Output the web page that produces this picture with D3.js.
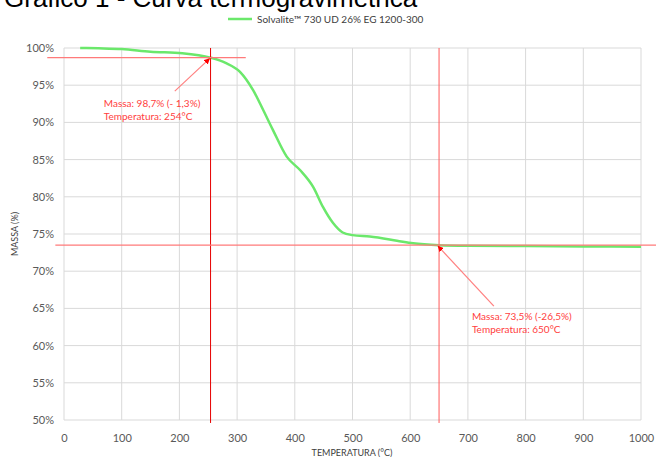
<!DOCTYPE html>
<html>
<head>
<meta charset="utf-8">
<script src="https://cdn.jsdelivr.net/npm/d3@7"></script>
<style>
  html, body { margin: 0; padding: 0; background: #fff; overflow: hidden; }
  svg { display: block; }
</style>
</head>
<body>
<svg id="chart" width="656" height="457"></svg>
<script>
// Thermogravimetric curve: temperature (°C) vs remaining mass (%)
const temperature = [28, 60, 100, 150, 205, 254, 280, 305, 328, 345, 362, 386, 409, 432, 449, 466, 483, 500, 530, 577, 605, 650, 700, 800, 900, 1000];
const mass =        [100, 99.95, 99.85, 99.5, 99.3, 98.7, 98.0, 96.8, 94.3, 91.7, 89.0, 85.4, 83.6, 81.3, 78.6, 76.5, 75.2, 74.85, 74.65, 74.1, 73.75, 73.5, 73.42, 73.38, 73.33, 73.28];

const xTicks = [0, 100, 200, 300, 400, 500, 600, 700, 800, 900, 1000];
const yTicks = [50, 55, 60, 65, 70, 75, 80, 85, 90, 95, 100];

const seriesName = "Solvalite™ 730 UD 26% EG 1200-300";
const titleText = "Gráfico 1 - Curva termogravimétrica";

// Marked points on the curve
const markTemp = [254, 650];
const markMass = [98.7, 73.5];
const markLoss = [1.3, 26.5];

const svg = d3.select("#chart");
const x = d3.scaleLinear().domain([0, 1000]).range([64, 641]);
const y = d3.scaleLinear().domain([50, 100]).range([420, 48]);

const font = "Lato, 'Open Sans', sans-serif";

// Title (top of page)
svg.append("text")
  .attr("x", 4).attr("y", 7)
  .attr("font-family", "'Liberation Sans', Arial, sans-serif")
  .attr("font-size", 26)
  .attr("fill", "#000")
  .text(titleText);

// Legend
svg.append("line")
  .attr("x1", 228).attr("x2", 252).attr("y1", 19).attr("y2", 19)
  .attr("stroke", "#6be86b").attr("stroke-width", 2.5);
svg.append("text")
  .attr("x", 257).attr("y", 23)
  .attr("font-family", font).attr("font-size", 10)
  .attr("fill", "#404040")
  .text(seriesName);

// Gridlines
svg.append("g").selectAll("line").data(yTicks).join("line")
  .attr("x1", x(0)).attr("x2", x(1000))
  .attr("y1", d => y(d)).attr("y2", d => y(d))
  .attr("stroke", "#d9d9d9").attr("stroke-width", 1);
svg.append("g").selectAll("line").data(xTicks).join("line")
  .attr("x1", d => x(d)).attr("x2", d => x(d))
  .attr("y1", y(50)).attr("y2", y(100))
  .attr("stroke", "#d9d9d9").attr("stroke-width", 1);

// Axes (labels only)
const xAxis = d3.axisBottom(x).tickValues(xTicks).tickSize(0).tickPadding(14).tickFormat(d3.format("d"));
const gx = svg.append("g").attr("transform", `translate(0,${y(50)})`).call(xAxis);
gx.select(".domain").remove();
gx.selectAll("text").attr("font-family", font).attr("font-size", 11).attr("fill", "#595959");

const yAxis = d3.axisLeft(y).tickValues(yTicks).tickSize(0).tickPadding(10).tickFormat(d => d + "%");
const gy = svg.append("g").attr("transform", `translate(${x(0)},0)`).call(yAxis);
gy.select(".domain").remove();
gy.selectAll("text").attr("font-family", font).attr("font-size", 11).attr("fill", "#595959");

// Axis titles
svg.append("text")
  .attr("x", 352).attr("y", 456)
  .attr("text-anchor", "middle")
  .attr("font-family", font).attr("font-size", 9)
  .attr("fill", "#404040")
  .text("TEMPERATURA (°C)");
svg.append("text")
  .attr("transform", `translate(18,${y(75)}) rotate(-90)`)
  .attr("text-anchor", "middle")
  .attr("font-family", font).attr("font-size", 9)
  .attr("fill", "#404040")
  .text("MASSA (%)");

// Curve
const points = temperature.map((t, i) => [t, mass[i]]);
svg.append("path")
  .datum(points)
  .attr("fill", "none")
  .attr("stroke", "#6be86b")
  .attr("stroke-width", 2.5)
  .attr("d", d3.line().x(d => x(d[0])).y(d => y(d[1])).curve(d3.curveMonotoneX));

// Reference lines for the marked points
const hLines = [[-29, 315], [-15, 1030]];
const vColors = ["#e60000", "#ff5a5a"];
markTemp.forEach((t, i) => {
  svg.append("line")
    .attr("x1", x(t)).attr("x2", x(t))
    .attr("y1", y(100)).attr("y2", y(49.6))
    .attr("stroke", vColors[i]).attr("stroke-width", 1);
  svg.append("line")
    .attr("x1", x(hLines[i][0])).attr("x2", x(hLines[i][1]))
    .attr("y1", y(markMass[i])).attr("y2", y(markMass[i]))
    .attr("stroke", "#ff7a7a").attr("stroke-width", 1.2);
});

// Callouts
const fmt = v => d3.format(".1f")(v).replace(".", ",");
const arrowFrom = [[192, 94.2], [745, 65.3]];
const labelAt = [[69, 92.1], [707, 63.4]];
const lossPrefix = ["- ", "-"];

const defs = svg.append("defs");
defs.append("marker")
  .attr("id", "head").attr("viewBox", "0 0 10 10")
  .attr("refX", 9).attr("refY", 5)
  .attr("markerWidth", 5).attr("markerHeight", 5)
  .attr("orient", "auto")
  .append("path").attr("d", "M0,0L10,5L0,10Z").attr("fill", "#ff0000");

markTemp.forEach((t, i) => {
  svg.append("line")
    .attr("x1", x(arrowFrom[i][0])).attr("y1", y(arrowFrom[i][1]))
    .attr("x2", x(t) - 1).attr("y2", y(markMass[i]) + 1)
    .attr("stroke", "#ff8080").attr("stroke-width", 1.2)
    .attr("marker-end", "url(#head)");
  const tx = svg.append("text")
    .attr("x", x(labelAt[i][0])).attr("y", y(labelAt[i][1]))
    .attr("font-family", font).attr("font-size", 10)
    .attr("fill", "#ff4040");
  tx.append("tspan").attr("x", x(labelAt[i][0]))
    .text(`Massa: ${fmt(markMass[i])}% (${lossPrefix[i]}${fmt(markLoss[i])}%)`);
  tx.append("tspan").attr("x", x(labelAt[i][0])).attr("dy", 13)
    .text(`Temperatura: ${t}°C`);
});
</script>
</body>
</html>
